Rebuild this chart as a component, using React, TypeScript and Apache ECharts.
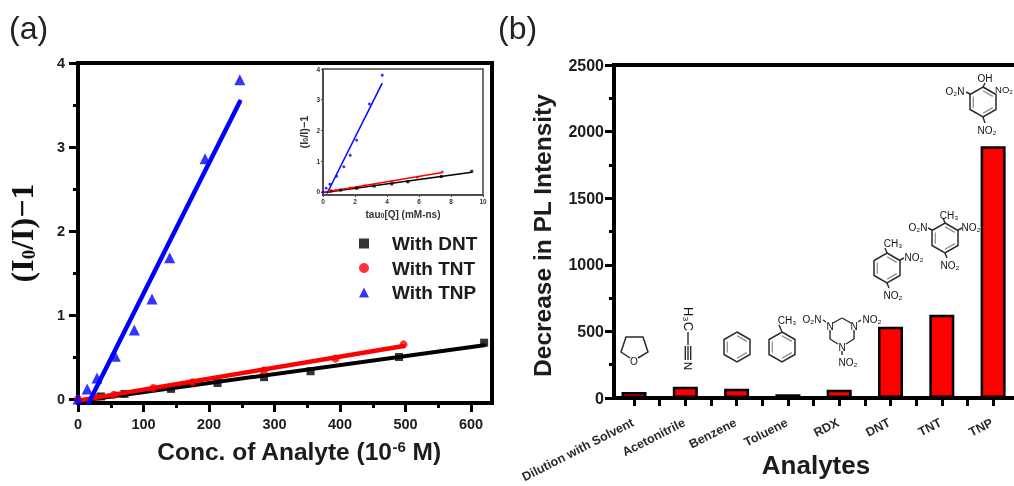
import React, { useEffect, useRef } from "react";
import * as echarts from "echarts";

const dntX = [35, 71, 142, 213, 284, 355, 490, 620];
const dntY = [0.03, 0.06, 0.12, 0.19, 0.26, 0.33, 0.5, 0.67];
const tntX = [0, 25, 55, 115, 175, 284, 393, 497];
const tntY = [0, 0.03, 0.05, 0.13, 0.2, 0.34, 0.48, 0.65];
const tnpX = [0, 14, 29, 57, 86, 113, 140, 194, 247];
const tnpY = [0, 0.12, 0.25, 0.51, 0.82, 1.19, 1.68, 2.86, 3.8];
const dntFit = [[5, -0.02], [620, 0.64]];
const tntFit = [[0, -0.02], [497, 0.63]];
const tnpFit = [[16, -0.05], [247, 3.54]];

const insetDntX = [0.5, 1.1, 2.1, 3.2, 4.3, 5.3, 7.4, 9.3];
const insetTntX = [0, 0.4, 0.8, 1.7, 2.6, 4.3, 5.9, 7.45];
const insetTnpX = [0, 0.2, 0.43, 0.85, 1.3, 1.7, 2.1, 2.9, 3.7];
const insetDntFit = [[0.1, -0.02], [9.3, 0.64]];
const insetTntFit = [[0, -0.02], [7.45, 0.63]];
const insetTnpFit = [[0.25, -0.05], [3.7, 3.54]];

const categories = ["Dilution with Solvent", "Acetonitrile", "Benzene", "Toluene", "RDX", "DNT", "TNT", "TNP"];
const decrease = [45, 85, 70, 28, 62, 535, 625, 1890];

const concTicks = [0, 100, 200, 300, 400, 500, 600];
const concMinor = [50, 150, 250, 350, 450, 550];
const ratioTicks = [0, 1, 2, 3, 4];
const ratioMinor = [0.5, 1.5, 2.5, 3.5];
const tauTicks = [0, 2, 4, 6, 8, 10];
const pieceTicks = [0, 1, 2, 3, 4, 5, 6, 7];
const pieceMinor = [0.5, 1.5, 2.5, 3.5, 4.5, 5.5, 6.5];
const intensityTicks = [0, 500, 1000, 1500, 2000, 2500];
const intensityMinor = [250, 750, 1250, 1750, 2250];

const SANS = "'Liberation Sans', Arial, sans-serif";
const SERIF = "'Liberation Serif', 'Times New Roman', serif";
const INK = "#1c1c1c";
const plain = (v: number) => String(v);
const zip = (a: number[], b: number[]) => a.map((v, i) => [v, b[i]]);

function mainAxis(gridIndex: number, position: string, min: number, max: number, ticks: number[], extra: any = {}) {
  return {
    type: "value", gridIndex, position, min, max, splitLine: { show: false }, nameMoveOverlap: false,
    axisLine: { show: true, onZero: false, lineStyle: { color: "#000", width: 4 } },
    axisTick: { show: true, customValues: ticks, length: 9, lineStyle: { color: "#000", width: 3 } },
    axisLabel: { customValues: ticks, color: INK, fontFamily: SANS, fontWeight: "bold", fontSize: 14.5, margin: 13, formatter: plain },
    ...extra,
  };
}
function minorAxis(gridIndex: number, position: string, min: number, max: number, ticks: number[], length: number) {
  return {
    type: "value", gridIndex, position, min, max, splitLine: { show: false },
    axisLine: { show: false, onZero: false },
    axisTick: { show: true, customValues: ticks, length, lineStyle: { color: "#000", width: 3 } },
    axisLabel: { show: false },
  };
}

const line = (x1: number, y1: number, x2: number, y2: number, w = 1.4) => ({
  type: "line", silent: true, z: 20, shape: { x1, y1, x2, y2 }, style: { stroke: "#2a2a2a", lineWidth: w },
});
const label = (text: string, x: number, y: number, size = 10, rotation = 0) => ({
  type: "text", silent: true, z: 21, x, y, rotation,
  style: { text, fill: "#111", font: `500 ${size}px ${SANS}`, align: "center", verticalAlign: "middle" },
});
function ring(cx: number, cy: number, r: number, inner = true) {
  const pts: number[][] = [];
  for (let i = 0; i < 6; i++) {
    const a = (Math.PI / 3) * i - Math.PI / 2;
    pts.push([cx + r * Math.cos(a), cy + r * Math.sin(a)]);
  }
  const out: any[] = [{ type: "polygon", silent: true, z: 20, shape: { points: pts }, style: { fill: "none", stroke: "#2a2a2a", lineWidth: 1.5 } }];
  if (inner) {
    [[0, 1], [2, 3], [4, 5]].forEach(([a, b]) => {
      const k = 0.75;
      out.push({
        type: "line", silent: true, z: 20,
        shape: { x1: cx + (pts[a][0] - cx) * k, y1: cy + (pts[a][1] - cy) * k, x2: cx + (pts[b][0] - cx) * k, y2: cy + (pts[b][1] - cy) * k },
        style: { stroke: "#888", lineWidth: 1.2 },
      });
    });
  }
  return out;
}

function molecules(): any[] {
  const oxolane = [[630, 358], [621, 352], [626, 337], [643, 337], [648, 352], [638, 358]];
  return [
    { type: "polyline", silent: true, z: 20, shape: { points: oxolane }, style: { fill: "none", stroke: "#2a2a2a", lineWidth: 1.5 } },
    label("O", 634, 361, 10),
    // acetonitrile
    label("H₃C", 688, 319, 13, Math.PI / -2), line(688, 332, 688, 345),
    line(688, 346, 688, 360), line(685.3, 346, 685.3, 360), line(690.7, 346, 690.7, 360),
    label("N", 688, 366, 11.5, Math.PI / -2),
    // benzene
    ...ring(737, 347, 15),
    // toluene
    ...ring(782, 347, 15), line(782, 332, 779, 325), label("CH₃", 787, 320),
    // RDX
    line(833, 323, 842, 318), line(842, 318, 851, 323), line(830, 330, 830, 339), line(830, 339, 838, 344),
    line(854, 330, 854, 339), line(854, 339, 846, 344), label("N", 830, 326), label("N", 854, 326), label("N", 842, 347),
    label("O₂N", 812, 319), label("NO₂", 872, 319), label("NO₂", 848, 362), line(826, 322, 823, 320), line(858, 322, 861, 320), line(842, 351, 842, 355),
    // DNT
    ...ring(887, 268, 15), line(887, 253, 885, 248), label("CH₃", 893, 243), line(900, 260, 904, 258), label("NO₂", 914, 257), line(887, 283, 889, 288), label("NO₂", 893, 295),
    // TNT
    ...ring(945, 238, 15), line(945, 223, 943, 218), label("CH₃", 949, 215), line(932, 230, 928, 228), label("O₂N", 918, 227), line(958, 230, 962, 228), label("NO₂", 971, 227), line(945, 253, 947, 258), label("NO₂", 950, 265),
    // TNP
    ...ring(983, 102, 15), line(983, 87, 985, 83), label("OH", 985, 78), line(970, 94, 966, 92), label("O₂N", 955, 91), label("NO₂", 1004, 89, 9.5), line(983, 117, 985, 123), label("NO₂", 987, 130),
  ];
}

export default function App() {
  const ref = useRef<HTMLDivElement>(null);
  useEffect(() => {
    document.body.style.margin = "0";
    const chart = echarts.init(ref.current!, undefined, { renderer: "svg" });
    const sub = { fontSize: 19, verticalAlign: "bottom", fontFamily: SERIF, fontWeight: "bold", color: "#111" };
    const staticGraphics = [
      { type: "text", x: 9, y: 12, style: { text: "(a)", fill: "#222", font: `32px ${SANS}` } },
      { type: "text", x: 498, y: 12, style: { text: "(b)", fill: "#222", font: `32px ${SANS}` } },
      ...molecules(),
    ];
    chart.setOption({
      animation: false,
      backgroundColor: "#fff",
      grid: [
        { left: 78, top: 63, width: 414, height: 340, show: true, borderColor: "#000", borderWidth: 4, backgroundColor: "transparent", outerBoundsMode: "none" },
        { left: 323, top: 69, width: 160, height: 126, show: true, borderColor: "#444", borderWidth: 1.5, backgroundColor: "#fff", z: 5, outerBoundsMode: "none" },
        { left: 614, top: 65, width: 404, height: 333, show: true, borderColor: "#000", borderWidth: 4, backgroundColor: "transparent", outerBoundsMode: "none" },
      ],
      xAxis: [
        mainAxis(0, "bottom", 0, 632, concTicks, {
          name: "Conc. of Analyte (10{sup|-6} M)", nameLocation: "middle", nameGap: 36,
          nameTextStyle: { color: INK, fontFamily: SANS, fontWeight: "bold", fontSize: 24.5, padding: [0, 0, 0, 28], rich: { sup: { fontSize: 15, fontWeight: "bold", fontFamily: SANS, verticalAlign: "top", color: INK } } },
        }),
        minorAxis(0, "bottom", 0, 632, concMinor, 5),
        {
          type: "value", gridIndex: 1, position: "bottom", min: 0, max: 10, z: 6, splitLine: { show: false }, nameMoveOverlap: false,
          axisLine: { show: true, onZero: false, lineStyle: { color: "#444", width: 1.5 } },
          axisTick: { show: true, customValues: tauTicks, length: 2, lineStyle: { color: "#444" } },
          axisLabel: { customValues: tauTicks, margin: 3, color: "#333", fontSize: 6.5, fontFamily: SANS, fontWeight: "bold" },
          name: "tau{s|0}[Q] (mM-ns)", nameLocation: "middle", nameGap: 14,
          nameTextStyle: { color: "#333", fontFamily: SANS, fontWeight: "bold", fontSize: 10, rich: { s: { fontSize: 7, fontWeight: "bold", verticalAlign: "bottom", color: "#333" } } },
        },
        mainAxis(2, "bottom", -0.39, 7.485, pieceTicks, {
          name: "Analytes", nameLocation: "middle", nameGap: 54,
          nameTextStyle: { color: INK, fontFamily: SANS, fontWeight: "bold", fontSize: 26 },
          axisTick: { show: true, customValues: pieceMinor.concat(pieceTicks), length: 8, lineStyle: { color: "#000", width: 3 } },
          axisLabel: { show: false },
        }),
      ],
      yAxis: [
        mainAxis(0, "left", -0.048, 4, ratioTicks, {
          name: "(I{s|0}/I)−1", nameLocation: "middle", nameGap: 40,
          nameTextStyle: { color: "#111", fontFamily: SERIF, fontWeight: "bold", fontSize: 32, rich: { s: sub } },
        }),
        minorAxis(0, "left", -0.048, 4, ratioMinor, 5),
        {
          type: "value", gridIndex: 1, position: "left", min: -0.1, max: 4, z: 6, splitLine: { show: false }, nameMoveOverlap: false,
          axisLine: { show: true, onZero: false, lineStyle: { color: "#444", width: 1.5 } },
          axisTick: { show: true, customValues: ratioTicks, length: 2, lineStyle: { color: "#444" } },
          axisLabel: { customValues: ratioTicks, margin: 3, color: "#333", fontSize: 6.5, fontFamily: SANS, fontWeight: "bold" },
          name: "(I{s|0}/I)−1", nameLocation: "middle", nameGap: 14,
          nameTextStyle: { color: "#333", fontFamily: SANS, fontWeight: "bold", fontSize: 11, rich: { s: { fontSize: 7, fontWeight: "bold", verticalAlign: "bottom", color: "#333" } } },
        },
        mainAxis(2, "left", 0, 2500, intensityTicks, {
          name: "Decrease in PL Intensity", nameLocation: "middle", nameGap: 59,
          nameTextStyle: { color: INK, fontFamily: SANS, fontWeight: "bold", fontSize: 24.5, padding: [0, 8, 0, 0] },
          axisLabel: { customValues: intensityTicks, color: INK, fontFamily: SANS, fontWeight: "bold", fontSize: 16, margin: 10, formatter: plain },
        }),
        minorAxis(2, "left", 0, 2500, intensityMinor, 5),
      ],
      legend: {
        data: ["With DNT", "With TNT", "With TNP"], orient: "vertical", left: 354, top: 229, itemGap: 5.5,
        itemWidth: 10, itemHeight: 10, itemStyle: { borderWidth: 0 },
        textStyle: { color: INK, fontFamily: SANS, fontWeight: "bold", fontSize: 19, padding: [0, 0, 0, 18] },
      },
      series: [
        { type: "scatter", name: "With DNT", xAxisIndex: 0, yAxisIndex: 0, symbol: "rect", symbolSize: 8, itemStyle: { color: "#000" }, data: zip(dntX, dntY), z: 3 },
        { type: "scatter", name: "With TNT", xAxisIndex: 0, yAxisIndex: 0, symbol: "circle", symbolSize: 8, itemStyle: { color: "#ff0000" }, data: zip(tntX, tntY), z: 4 },
        { type: "scatter", name: "With TNP", xAxisIndex: 0, yAxisIndex: 0, symbol: "triangle", symbolSize: 11, itemStyle: { color: "#0000ff" }, data: zip(tnpX, tnpY), z: 5 },
        { type: "line", name: "DNT fit", xAxisIndex: 0, yAxisIndex: 0, symbol: "none", lineStyle: { color: "#000", width: 4, cap: "round" }, data: dntFit, z: 3 },
        { type: "line", name: "TNT fit", xAxisIndex: 0, yAxisIndex: 0, symbol: "none", lineStyle: { color: "#ff0000", width: 4.5, cap: "round" }, data: tntFit, z: 4 },
        { type: "line", name: "TNP fit", xAxisIndex: 0, yAxisIndex: 0, symbol: "none", lineStyle: { color: "#0000ff", width: 4.5, cap: "round" }, data: tnpFit, z: 5 },

        { type: "scatter", name: "Inset DNT", xAxisIndex: 2, yAxisIndex: 2, symbol: "rect", symbolSize: 3, itemStyle: { color: "#000" }, data: zip(insetDntX, dntY), z: 7 },
        { type: "scatter", name: "Inset TNT", xAxisIndex: 2, yAxisIndex: 2, symbol: "circle", symbolSize: 3, itemStyle: { color: "#ff0000" }, data: zip(insetTntX, tntY), z: 7 },
        { type: "scatter", name: "Inset TNP", xAxisIndex: 2, yAxisIndex: 2, symbol: "circle", symbolSize: 3, itemStyle: { color: "#0000ff" }, data: zip(insetTnpX, tnpY), z: 7 },
        { type: "line", name: "Inset DNT fit", xAxisIndex: 2, yAxisIndex: 2, symbol: "none", lineStyle: { color: "#000", width: 1.5 }, data: insetDntFit, z: 7 },
        { type: "line", name: "Inset TNT fit", xAxisIndex: 2, yAxisIndex: 2, symbol: "none", lineStyle: { color: "#ff0000", width: 1.5 }, data: insetTntFit, z: 7 },
        { type: "line", name: "Inset TNP fit", xAxisIndex: 2, yAxisIndex: 2, symbol: "none", lineStyle: { color: "#0000ff", width: 1.5 }, data: insetTnpFit, z: 7 },

        {
          type: "bar", name: "Decrease in PL Intensity", xAxisIndex: 3, yAxisIndex: 3, barWidth: 25,
          itemStyle: { color: "#ff0000", borderColor: "#000", borderWidth: 2.5 }, data: zip(pieceTicks, decrease),
        },
      ],
      graphic: staticGraphics,
    });
    // Category labels hang from the axis ticks, their right ends at each tick.
    const categoryLabels = categories.map((text, i) => ({
      type: "text", silent: true, z: 21,
      x: (chart.convertToPixel({ xAxisIndex: 3 }, pieceTicks[i]) as number) - 4,
      y: 416,
      rotation: (27 * Math.PI) / 180,
      style: { text, fill: "#2a2a2a", font: `bold 12.5px ${SANS}`, align: "right", verticalAlign: "top" },
    }));
    chart.setOption({ graphic: [...staticGraphics, ...categoryLabels] });
    return () => chart.dispose();
  }, []);
  return <div ref={ref} style={{ position: "fixed", left: 0, top: 0, width: 1014, height: 486, filter: "blur(0.6px)" }} />;
}
